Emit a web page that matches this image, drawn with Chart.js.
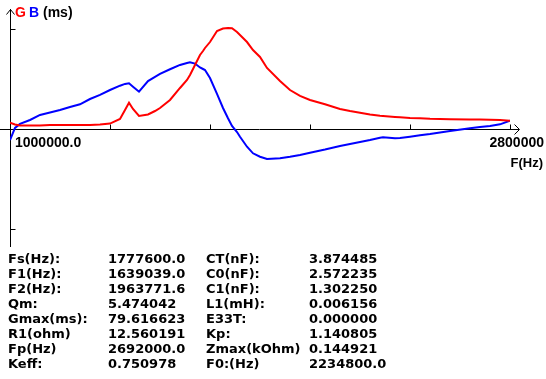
<!DOCTYPE html>
<html>
<head>
<meta charset="utf-8">
<script src="https://cdn.jsdelivr.net/npm/chart.js@4.4.0/dist/chart.umd.min.js"></script>
<style>
html,body{margin:0;padding:0;background:#fff;}
#c{display:block;}
</style>
</head>
<body>
<canvas id="c" width="546" height="379"></canvas>
<script>
// Frequencies (Hz)
const freqs = [1000000,1018000,1036000,1072000,1108000,1144000,1180000,1216000,1252000,1288000,
1324000,1360000,1396000,1414000,1428400,1442800,1464400,1496800,1522000,1540000,
1576000,1612000,1637200,1648000,1666000,1684000,1694800,1702000,1720000,1745200,
1766800,1784800,1799200,1817200,1828000,1853200,1874800,1900000,1925200,1972000,
2008000,2044000,2080000,2134000,2188000,2224000,2260000,2296000,2332000,2342800,
2386000,2404000,2440000,2476000,2512000,2584000,2656000,2692000,2728000,2764000,2800000];
// Conductance G (ms)
const gValues = [5.0,3.6,2.8,2.8,2.8,3.2,3.2,3.2,3.2,3.2,
3.6,4.3,7.9,15.0,20.8,15.8,10.3,11.5,14.2,16.6,
22.9,32.4,38.7,42.7,50.6,58.5,61.6,64.0,68.7,77.4,
79.4,79.8,79.6,76.6,74.3,68.7,62.4,56.9,48.2,37.9,
30.8,26.1,22.9,19.5,15.8,14.2,12.9,11.5,10.5,10.3,
9.5,9.2,8.7,8.5,8.1,7.7,7.5,7.5,7.3,7.1,6.6];
// Susceptance B (ms)
const bValues = [-8.7,0.8,4.0,7.1,11.1,13.0,15.0,17.4,19.5,23.7,
26.9,30.8,34.2,35.6,36.1,33.4,29.5,37.9,41.1,43.5,
47.2,50.6,52.1,52.7,51.7,48.6,47.4,46.6,40.3,27.7,
16.6,8.5,2.4,-2.4,-6.1,-14.0,-19.2,-21.9,-23.7,-23.1,
-21.9,-20.5,-18.7,-16.2,-13.4,-11.9,-10.3,-8.7,-6.9,-6.6,
-7.3,-7.1,-6.1,-5.0,-4.0,-1.6,0.6,1.6,2.4,3.7,6.6];
const xTicks = [1360000,1720000,2080000,2440000,2800000];
const yTicks = [79,-79];
const xMin = 1000000, xMax = 2800000;
const yMin = -94, yMax = 94;
const paramLabels1 = ["Fs(Hz):","F1(Hz):","F2(Hz):","Qm:","Gmax(ms):","R1(ohm)","Fp(Hz)","Keff:"];
const paramValues1 = ["1777600.0","1639039.0","1963771.6","5.474042","79.616623","12.560191","2692000.0","0.750978"];
const paramLabels2 = ["CT(nF):","C0(nF):","C1(nF):","L1(mH):","E33T:","Kp:","Zmax(kOhm)","F0:(Hz)"];
const paramValues2 = ["3.874485","2.572235","1.302250","0.006156","0.000000","1.140805","0.144921","2234800.0"];

const gData = freqs.map((f,i)=>({x:f,y:gValues[i]}));
const bData = freqs.map((f,i)=>({x:f,y:bValues[i]}));

const axesPlugin = {
  id:'axesPlugin',
  beforeDatasetsDraw(chart){
    const ctx = chart.ctx;
    const xs = chart.scales.x, ys = chart.scales.y;
    const x0 = Math.round(xs.getPixelForValue(xMin)) + 0.5;
    const y0 = Math.round(ys.getPixelForValue(0)) + 0.5;
    ctx.save();
    ctx.strokeStyle = '#000';
    ctx.lineWidth = 1;
    ctx.beginPath();
    ctx.moveTo(0, y0); ctx.lineTo(xs.getPixelForValue(xMax) + 9, y0);
    const ax = Math.round(xs.getPixelForValue(xMax)) + 9.5;
    ctx.moveTo(ax-5, y0-5); ctx.lineTo(ax, y0); ctx.lineTo(ax-5, y0+5);
    ctx.moveTo(x0, ys.getPixelForValue(yMax) - 1); ctx.lineTo(x0, ys.getPixelForValue(yMin) - 1);
    const ty = Math.round(ys.getPixelForValue(yMax)) - 0.5;
    ctx.moveTo(x0-4, ty+5); ctx.lineTo(x0, ty); ctx.lineTo(x0+4, ty+5);
    xTicks.forEach(v=>{
      const px = Math.round(xs.getPixelForValue(v)) + 0.5;
      ctx.moveTo(px, y0); ctx.lineTo(px, y0-5);
    });
    yTicks.forEach(v=>{
      const py = Math.round(ys.getPixelForValue(v)) + 0.5;
      ctx.moveTo(x0, py); ctx.lineTo(x0+5, py);
    });
    ctx.stroke();
    ctx.restore();
  },
  afterDraw(chart){
    const ctx = chart.ctx;
    ctx.save();
    ctx.textBaseline = 'alphabetic';
    ctx.font = 'bold 14px "Liberation Sans", Arial, sans-serif';
    ctx.textAlign = 'left';
    ctx.fillStyle = '#ff0000'; ctx.fillText('G', 15, 17);
    ctx.fillStyle = '#0000ff'; ctx.fillText('B', 29, 17);
    ctx.fillStyle = '#000'; ctx.fillText('(ms)', 43, 17);
    ctx.fillText(String(xMin.toFixed(1)), 15, 147);
    ctx.textAlign = 'right';
    ctx.fillText(String(xMax), 544, 147);
    ctx.font = 'bold 13px "Liberation Sans", Arial, sans-serif';
    ctx.fillText('F(Hz)', 543, 167);
    ctx.textAlign = 'left';
    ctx.font = 'bold 13px "DejaVu Sans", sans-serif';
    for(let i=0;i<paramLabels1.length;i++){
      const by = 263 + i*15;
      ctx.fillText(paramLabels1[i], 8, by);
      ctx.fillText(paramValues1[i], 108, by);
      ctx.fillText(paramLabels2[i], 206, by);
      ctx.fillText(paramValues2[i], 309, by);
    }
    ctx.restore();
  }
};

new Chart(document.getElementById('c'), {
  type:'line',
  data:{
    datasets:[
      {label:'G', data:gData, borderColor:'#ff0000', borderWidth:2, pointRadius:0, tension:0, fill:false},
      {label:'B', data:bData, borderColor:'#0000ff', borderWidth:2, pointRadius:0, tension:0, fill:false}
    ]
  },
  options:{
    responsive:false,
    animation:false,
    devicePixelRatio:1,
    layout:{padding:{left:10, right:36, top:10, bottom:131}},
    plugins:{legend:{display:false}, tooltip:{enabled:false}, title:{display:false}},
    scales:{
      x:{type:'linear', min:xMin, max:xMax, display:false},
      y:{type:'linear', min:yMin, max:yMax, display:false}
    }
  },
  plugins:[axesPlugin]
});
</script>
</body>
</html>
